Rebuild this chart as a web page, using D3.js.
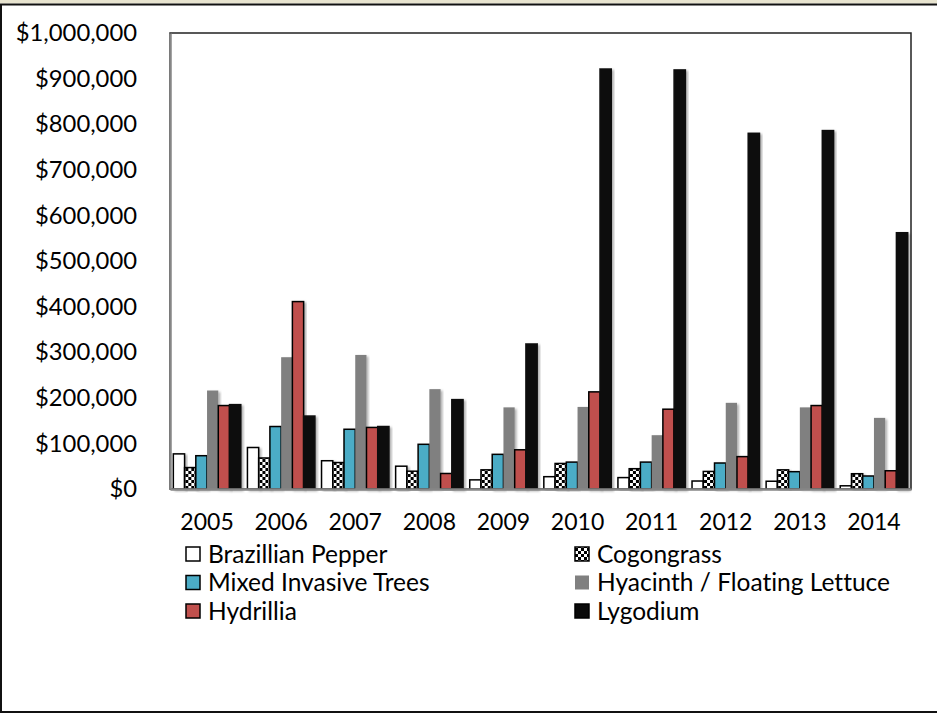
<!DOCTYPE html>
<html>
<head>
<meta charset="utf-8">
<script src="https://cdn.jsdelivr.net/npm/d3@7/dist/d3.min.js"></script>
<style>
  html, body { margin: 0; padding: 0; background: #fff; }
  svg { display: block; font-family: Lato, "Open Sans", sans-serif; font-variant-ligatures: none; }
</style>
</head>
<body>
<svg id="chart" width="937" height="714"></svg>
<script>
// Annual spending on invasive plant control, by species group
const years = ["2005", "2006", "2007", "2008", "2009", "2010", "2011", "2012", "2013", "2014"];
const seriesNames = ["Brazillian Pepper", "Cogongrass", "Mixed Invasive Trees",
                     "Hyacinth / Floating Lettuce", "Hydrillia", "Lygodium"];
const brazillianPepper = [77000, 91000, 62000, 50000, 20000, 27000, 25000, 17500, 17000, 7000];
const cogongrass       = [47000, 68000, 58000, 39000, 42000, 56000, 44500, 38500, 42000, 33500];
const mixedTrees       = [73000, 137000, 131000, 98000, 76000, 59000, 59000, 57000, 38000, 28500];
const hyacinthLettuce  = [216000, 289000, 294000, 219000, 179000, 180000, 118000, 189000, 179000, 156000];
const hydrillia        = [183000, 411000, 135000, 34000, 86000, 213000, 175000, 71000, 183000, 40000];
const lygodium         = [185000, 160000, 137000, 196000, 318000, 921000, 919000, 780000, 786000, 562000];
const yTicks = [0, 100000, 200000, 300000, 400000, 500000, 600000, 700000, 800000, 900000, 1000000];

const seriesValues = [brazillianPepper, cogongrass, mixedTrees, hyacinthLettuce, hydrillia, lygodium];
const fills   = ["#ffffff", "url(#checker)", "#4bacc6", "#808080", "#c0504d", "#0a0a0a"];
const strokes = ["#000", "#000", "#000", "none", "#000", "#0a0a0a"];

const svg = d3.select("#chart");
const defs = svg.append("defs");

// black/white checkerboard fill
const pat = defs.append("pattern").attr("id", "checker")
  .attr("width", 6).attr("height", 6).attr("patternUnits", "userSpaceOnUse");
pat.append("rect").attr("width", 6).attr("height", 6).attr("fill", "#fff");
pat.append("rect").attr("width", 3).attr("height", 3).attr("fill", "#000");
pat.append("rect").attr("x", 3).attr("y", 3).attr("width", 3).attr("height", 3).attr("fill", "#000");

// soft shadow under the bars
const f = defs.append("filter").attr("id", "shadow")
  .attr("x", "-30%").attr("y", "-10%").attr("width", "160%").attr("height", "120%");
f.append("feDropShadow").attr("dx", 2).attr("dy", 1.5).attr("stdDeviation", 1.3)
  .attr("flood-color", "#000").attr("flood-opacity", 0.3);

// outer frame
svg.append("rect").attr("x", 0).attr("y", 0).attr("width", 937).attr("height", 3.5).attr("fill", "#e8e4cf");
svg.append("rect").attr("x", 1).attr("y", 4.5).attr("width", 940).attr("height", 707.5)
  .attr("fill", "none").attr("stroke", "#111").attr("stroke-width", 2);

const plotLeft = 170, plotRight = 911, plotTop = 33, plotBottom = 489;

const x0 = d3.scaleBand().domain(years).range([plotLeft, plotRight]).paddingInner(0.09).paddingOuter(0.045);
const x1 = d3.scaleBand().domain(d3.range(seriesNames.length)).range([0, x0.bandwidth()]);
const y = d3.scaleLinear().domain([0, 1000000]).range([plotBottom, plotTop]);

// plot border
svg.append("rect").attr("x", plotLeft).attr("y", plotTop)
  .attr("width", plotRight - plotLeft).attr("height", plotBottom - plotTop)
  .attr("fill", "none").attr("stroke", "#222").attr("stroke-width", 1.5);

// bars
const groups = svg.append("g").selectAll("g").data(years).join("g")
  .attr("transform", d => `translate(${x0(d)},0)`);
groups.selectAll("rect")
  .data((yr, i) => seriesValues.map((vals, s) => ({ s, v: vals[i] })))
  .join("rect")
  .attr("x", d => x1(d.s))
  .attr("y", d => y(d.v))
  .attr("width", x1.bandwidth())
  .attr("height", d => y(0) - y(d.v))
  .attr("fill", d => fills[d.s])
  .attr("stroke", d => strokes[d.s])
  .attr("stroke-width", 1.5)
  .attr("filter", "url(#shadow)");

// axes
const yAxis = d3.axisLeft(y).tickValues(yTicks).tickSize(0).tickPadding(33)
  .tickFormat(d => "$" + d3.format(",")(d));
const gy = svg.append("g").attr("transform", `translate(${plotLeft},0)`).call(yAxis);
gy.select(".domain").attr("stroke", "#868686").attr("stroke-width", 2.5);
gy.selectAll("text").attr("font-size", 23.8).attr("fill", "#000").attr("font-family", "Lato");

const xAxis = d3.axisBottom(x0).tickSize(0).tickPadding(25);
const gx = svg.append("g").attr("transform", `translate(0,${plotBottom})`).call(xAxis);
gx.select(".domain").attr("stroke", "#868686").attr("stroke-width", 2.5);
gx.selectAll("text").attr("font-size", 23).attr("fill", "#000").attr("font-family", "Lato");

// legend, two columns
const legendCols = [186, 575];
const legendRows = [554, 582.5, 611];
const leg = svg.append("g").selectAll("g").data(seriesNames).join("g")
  .attr("transform", (d, i) => `translate(${legendCols[i % 2]},${legendRows[Math.floor(i / 2)]})`);
leg.append("rect").attr("x", 0).attr("y", -7).attr("width", 14).attr("height", 14)
  .attr("fill", (d, i) => fills[i])
  .attr("stroke", (d, i) => i === 3 ? "none" : "#000").attr("stroke-width", 1.5);
leg.append("text").attr("x", 22).attr("y", 0).attr("dy", "0.35em")
  .attr("font-size", 24.5).attr("fill", "#000").text(d => d);
</script>
</body>
</html>
